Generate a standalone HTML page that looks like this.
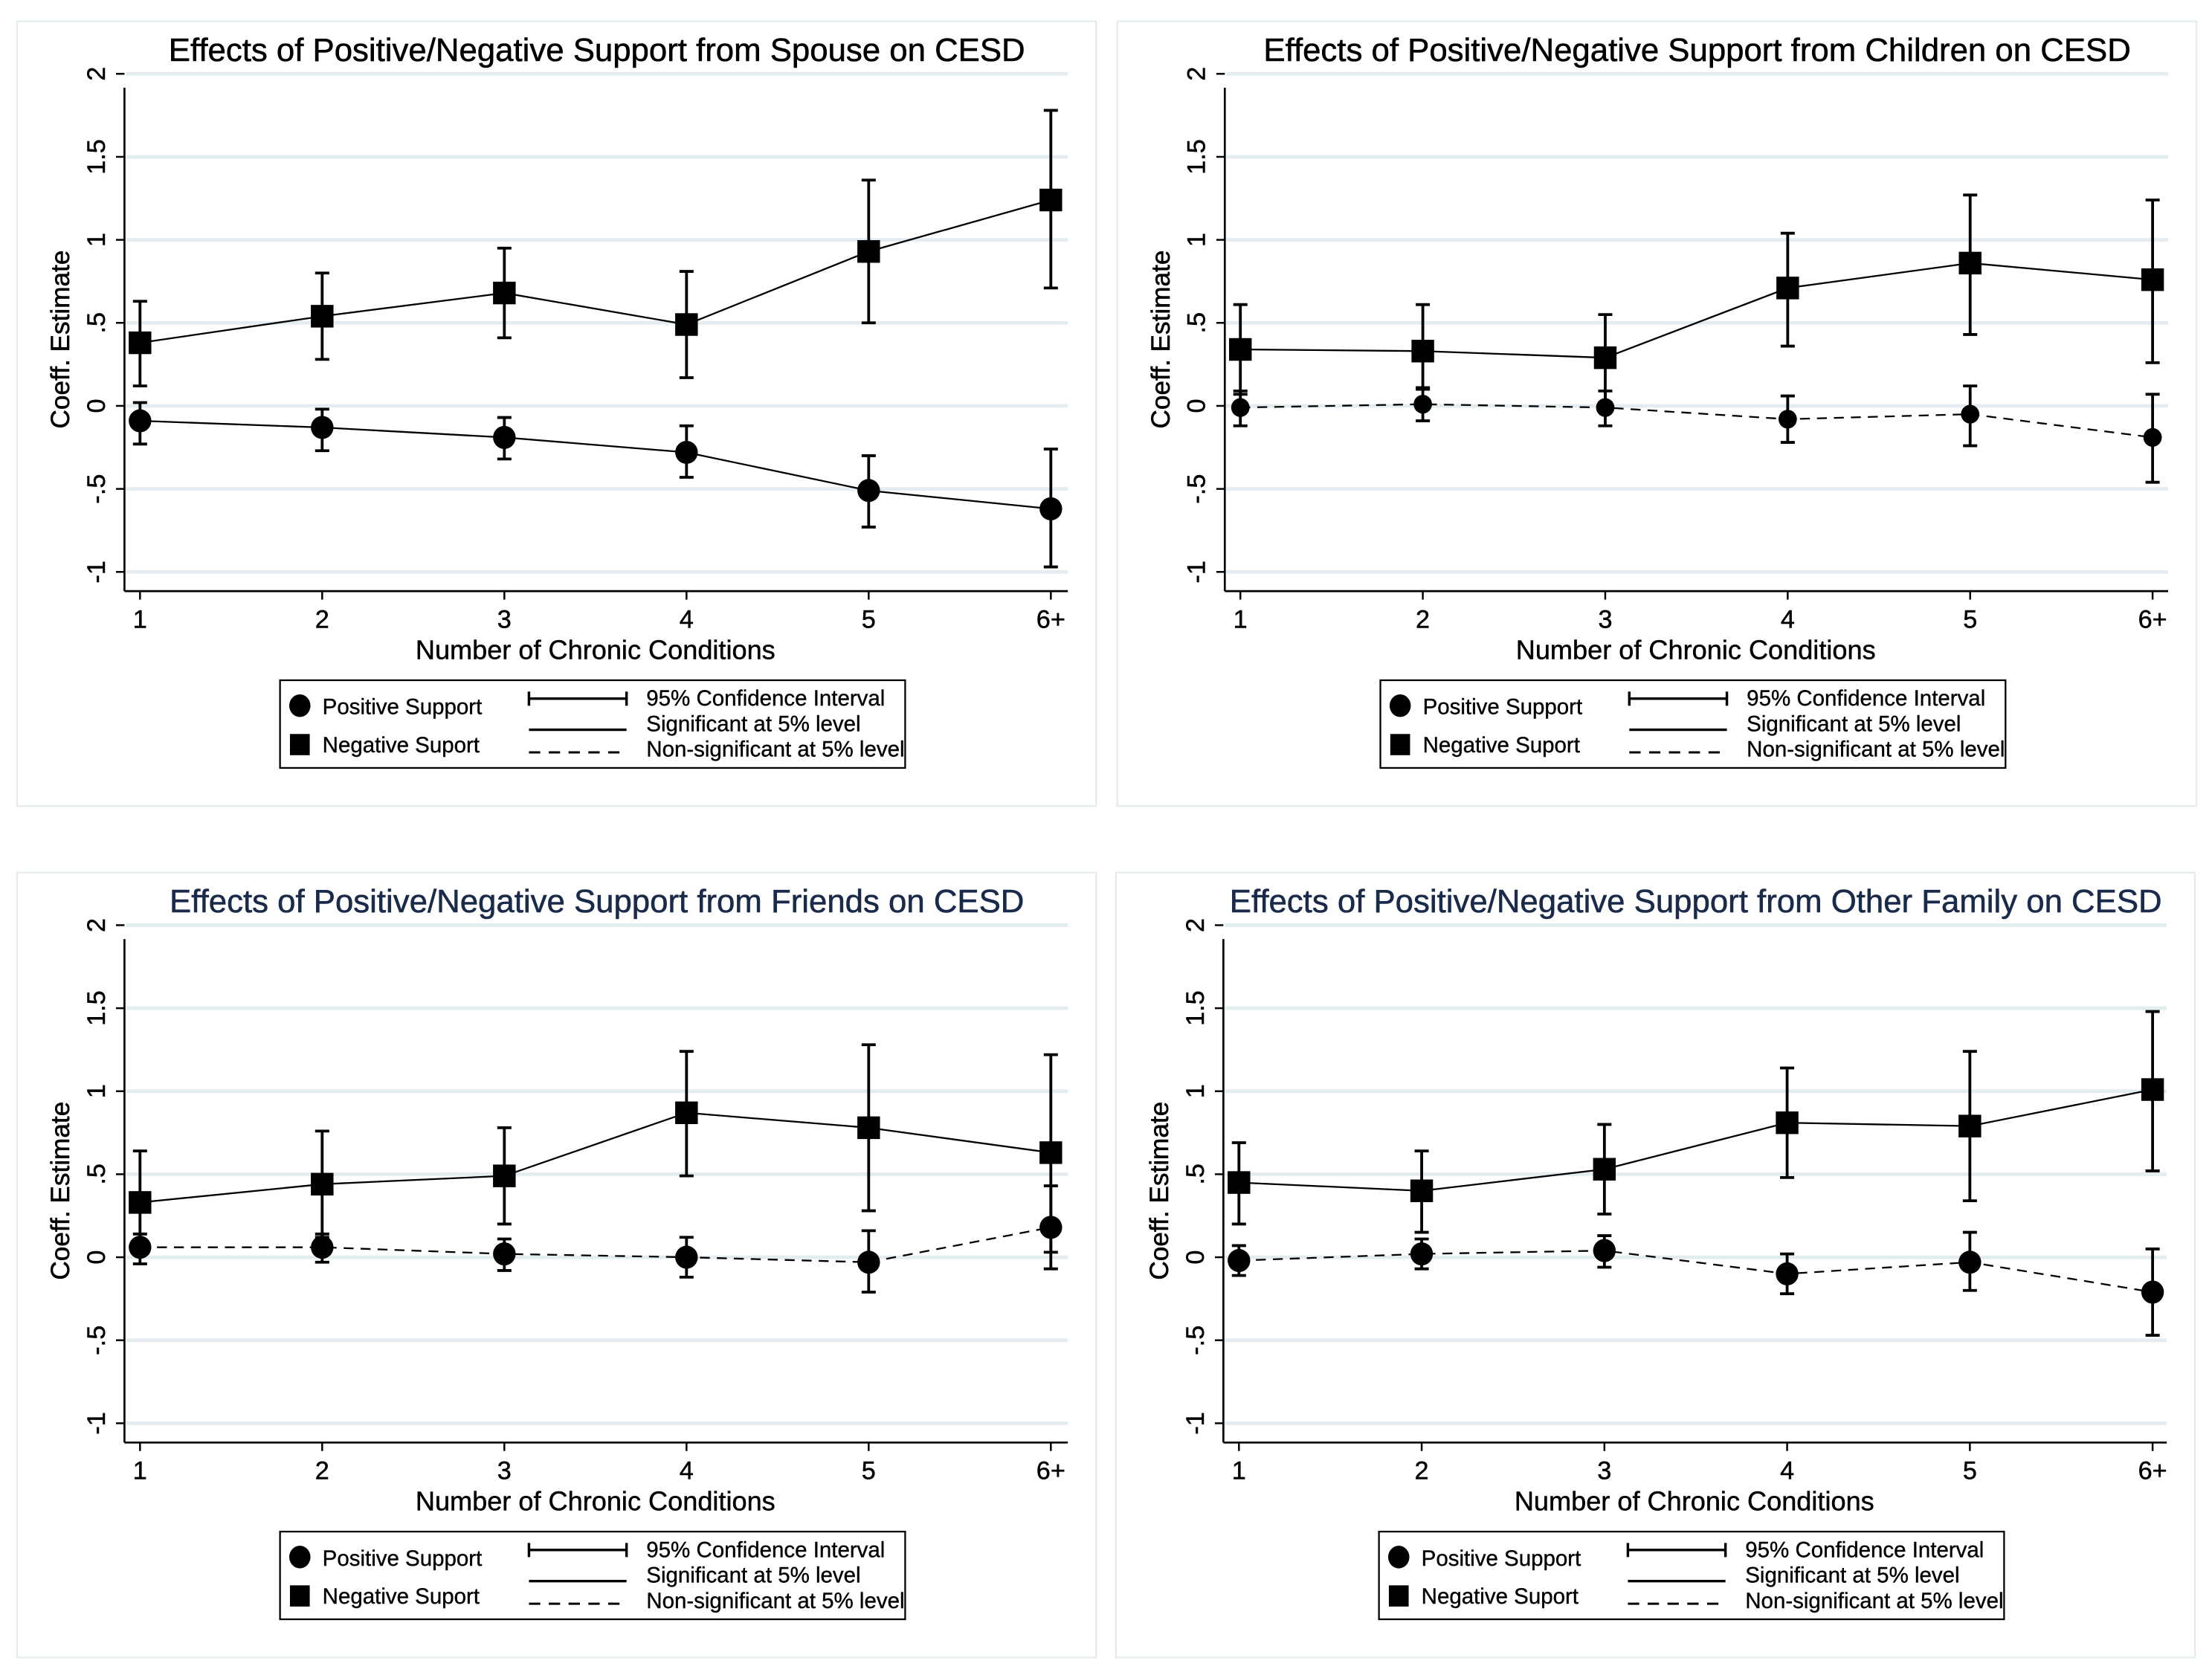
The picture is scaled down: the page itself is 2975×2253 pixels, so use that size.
<!DOCTYPE html>
<html><head><meta charset="utf-8">
<style>
html,body{margin:0;padding:0;background:#fff;}
svg{display:block;}
text{font-family:"Liberation Sans",Arial,sans-serif;}
</style></head>
<body>
<svg id="chart" width="2975" height="2253" viewBox="0 0 1564 1184.4" preserveAspectRatio="none" xmlns="http://www.w3.org/2000/svg">
</svg>
<script>
const categories = ["1","2","3","4","5","6+"];
const yTicks = [2,1.5,1,0.5,0,-0.5,-1];
const yTickLabels = ["2","1.5","1",".5","0","-.5","-1"];
const panelTitles = [
 "Effects of Positive/Negative Support from Spouse on CESD",
 "Effects of Positive/Negative Support from Children on CESD",
 "Effects of Positive/Negative Support from Friends on CESD",
 "Effects of Positive/Negative Support from Other Family on CESD"];
const spouseNeg = [0.38,0.54,0.68,0.49,0.93,1.24];
const spouseNegLo = [0.12,0.28,0.41,0.17,0.50,0.71];
const spouseNegHi = [0.63,0.80,0.95,0.81,1.36,1.78];
const spousePos = [-0.09,-0.13,-0.19,-0.28,-0.51,-0.62];
const spousePosLo = [-0.23,-0.27,-0.32,-0.43,-0.73,-0.97];
const spousePosHi = [0.02,-0.02,-0.07,-0.12,-0.30,-0.26];
const childNeg = [0.34,0.33,0.29,0.71,0.86,0.76];
const childNegLo = [0.07,0.10,0.02,0.36,0.43,0.26];
const childNegHi = [0.61,0.61,0.55,1.04,1.27,1.24];
const childPos = [-0.01,0.01,-0.01,-0.08,-0.05,-0.19];
const childPosLo = [-0.12,-0.09,-0.12,-0.22,-0.24,-0.46];
const childPosHi = [0.09,0.11,0.09,0.06,0.12,0.07];
const friendNeg = [0.33,0.44,0.49,0.87,0.78,0.63];
const friendNegLo = [0.03,0.12,0.20,0.49,0.28,0.03];
const friendNegHi = [0.64,0.76,0.78,1.24,1.28,1.22];
const friendPos = [0.06,0.06,0.02,0.00,-0.03,0.18];
const friendPosLo = [-0.04,-0.03,-0.08,-0.12,-0.21,-0.07];
const friendPosHi = [0.14,0.14,0.11,0.12,0.16,0.43];
const otherNeg = [0.45,0.40,0.53,0.81,0.79,1.01];
const otherNegLo = [0.20,0.15,0.26,0.48,0.34,0.52];
const otherNegHi = [0.69,0.64,0.80,1.14,1.24,1.48];
const otherPos = [-0.02,0.02,0.04,-0.10,-0.03,-0.21];
const otherPosLo = [-0.11,-0.07,-0.06,-0.22,-0.20,-0.47];
const otherPosHi = [0.07,0.11,0.13,0.02,0.15,0.05];

const svg = document.getElementById('chart');
const NS = "http://www.w3.org/2000/svg";
function mk(tag, attrs, parent){const e=document.createElementNS(NS,tag);for(const k in attrs)e.setAttribute(k,attrs[k]);(parent||svg).appendChild(e);return e;}

const panels = [
 {ox:0, oy:0, axX:88, x0:99, x1:743, right:755, neg:[spouseNeg,spouseNegLo,spouseNegHi], pos:[spousePos,spousePosLo,spousePosHi], posDash:false, r:8, color:"#000", name:"spouse"},
 {ox:778, oy:0, axX:88, x0:99, x1:744, right:755, neg:[childNeg,childNegLo,childNegHi], pos:[childPos,childPosLo,childPosHi], posDash:true, r:6.5, color:"#000", name:"children"},
 {ox:0, oy:602, axX:88, x0:99, x1:743, right:755, neg:[friendNeg,friendNegLo,friendNegHi], pos:[friendPos,friendPosLo,friendPosHi], posDash:true, r:8, color:"#1a2a4a", name:"friends"},
 {ox:777, oy:602, axX:88, x0:99, x1:745, right:755, neg:[otherNeg,otherNegLo,otherNegHi], pos:[otherPos,otherPosLo,otherPosHi], posDash:true, r:8, color:"#1a2a4a", name:"other-family"}
];

panels.forEach((p,pi)=>{
  const g = mk('g',{transform:`translate(${p.ox},${p.oy})`});
  
  
  const yS = v => 287 - v*117.4;
  const xS = i => p.x0 + i*(p.x1-p.x0)/(categories.length-1);
  const frame = mk('rect',{x:12,y:15,width:763,height:555,fill:'none',stroke:'#e4ecee','stroke-width':1.2},g);
  
  
  const t = mk('text',{x:422,y:43,'text-anchor':'middle','font-size':23,fill:p.color,stroke:p.color,'stroke-width':0.3},g);
  t.textContent = panelTitles[pi];
  
  
  yTicks.forEach((v,i)=>{
    const y=yS(v);
    const gl = mk('line',{x1:p.axX+1,x2:p.right,y1:y,y2:y,stroke:'#e3ecef','stroke-width':2.5},g);
    
    
    mk('line',{x1:p.axX-6,x2:p.axX,y1:y,y2:y,stroke:'#000','stroke-width':1.3},g);
    const lb = mk('text',{x:0,y:0,transform:`translate(${p.axX-14},${y}) rotate(-90)`,'text-anchor':'middle','font-size':18,stroke:'#000','stroke-width':0.25},g);
    lb.textContent = yTickLabels[i];
    
    
  });
  const ya = mk('line',{x1:p.axX,x2:p.axX,y1:62,y2:418,stroke:'#000','stroke-width':1.4},g);
  
  
  const xa = mk('line',{x1:p.axX,x2:p.right,y1:418,y2:418,stroke:'#000','stroke-width':1.4},g);
  
  
  categories.forEach((c,i)=>{
    const x=xS(i);
    mk('line',{x1:x,x2:x,y1:418,y2:424,stroke:'#000','stroke-width':1.3},g);
    const lb = mk('text',{x:x,y:444,'text-anchor':'middle','font-size':18,stroke:'#000','stroke-width':0.25},g);
    lb.textContent=c;
    
    
  });
  const yt = mk('text',{x:0,y:0,transform:`translate(49,240) rotate(-90)`,'text-anchor':'middle','font-size':18.5,stroke:'#000','stroke-width':0.3},g);
  yt.textContent='Coeff. Estimate';
  
  
  const xt = mk('text',{x:421,y:466,'text-anchor':'middle','font-size':19,stroke:'#000','stroke-width':0.25},g);
  xt.textContent='Number of Chronic Conditions';
  
  

  function series(arr, isSquare, dashed, nm){
    const [vals,lo,hi]=arr;
    const sg = mk('g',{},g);
    
    
    const pts = vals.map((v,i)=>xS(i)+','+yS(v)).join(' ');
    const pl = mk('polyline',{points:pts,fill:'none',stroke:'#000','stroke-width':1.2,'stroke-dasharray':dashed?'7,5':'none'},sg);
    
    
    vals.forEach((v,i)=>{
      const x=xS(i);
      const eb = mk('path',{d:`M${x},${yS(lo[i])}V${yS(hi[i])}M${x-5},${yS(lo[i])}H${x+5}M${x-5},${yS(hi[i])}H${x+5}`,stroke:'#000','stroke-width':2,fill:'none'},sg);
      
      
      let m;
      if(isSquare){
        m = mk('rect',{x:x-8,y:yS(v)-8,width:16,height:16,fill:'#000'},sg);
      } else {
        m = mk('ellipse',{cx:x,cy:yS(v),rx:p.r,ry:p.r*1.02,fill:'#000'},sg);
      }
      
      
    });
  }
  series(p.neg,true,false,'negative-support');
  series(p.pos,false,p.posDash,'positive-support');

  const lg = mk('g',{},g);
  
  
  mk('rect',{x:198,y:481,width:442,height:62,fill:'#fff',stroke:'#000','stroke-width':1.2},lg);
  const c1 = mk('ellipse',{cx:212,cy:499,rx:7.5,ry:8,fill:'#000'},lg);
  
  
  const t1 = mk('text',{x:228,y:505,'font-size':15.5,stroke:'#000','stroke-width':0.2},lg); t1.textContent='Positive Support';
  
  
  const s1 = mk('rect',{x:205,y:519,width:14,height:15,fill:'#000'},lg);
  
  
  const t2 = mk('text',{x:228,y:532,'font-size':15.5,stroke:'#000','stroke-width':0.2},lg); t2.textContent='Negative Suport';
  
  
  mk('path',{d:'M374,494H443M374,489V499M443,489V499',stroke:'#000','stroke-width':1.8,fill:'none'},lg);
  mk('line',{x1:374,x2:443,y1:516,y2:516,stroke:'#000','stroke-width':1.8},lg);
  mk('line',{x1:374,x2:443,y1:532,y2:532,stroke:'#000','stroke-width':1.6,'stroke-dasharray':'8,6'},lg);
  const l1 = mk('text',{x:457,y:499,'font-size':15.5,stroke:'#000','stroke-width':0.2},lg); l1.textContent='95% Confidence Interval';
  
  
  const l2 = mk('text',{x:457,y:517,'font-size':15.5,stroke:'#000','stroke-width':0.2},lg); l2.textContent='Significant at 5% level';
  
  
  const l3 = mk('text',{x:457,y:535,'font-size':15.5,stroke:'#000','stroke-width':0.2},lg); l3.textContent='Non-significant at 5% level';
  
  
});
</script>
</body></html>
